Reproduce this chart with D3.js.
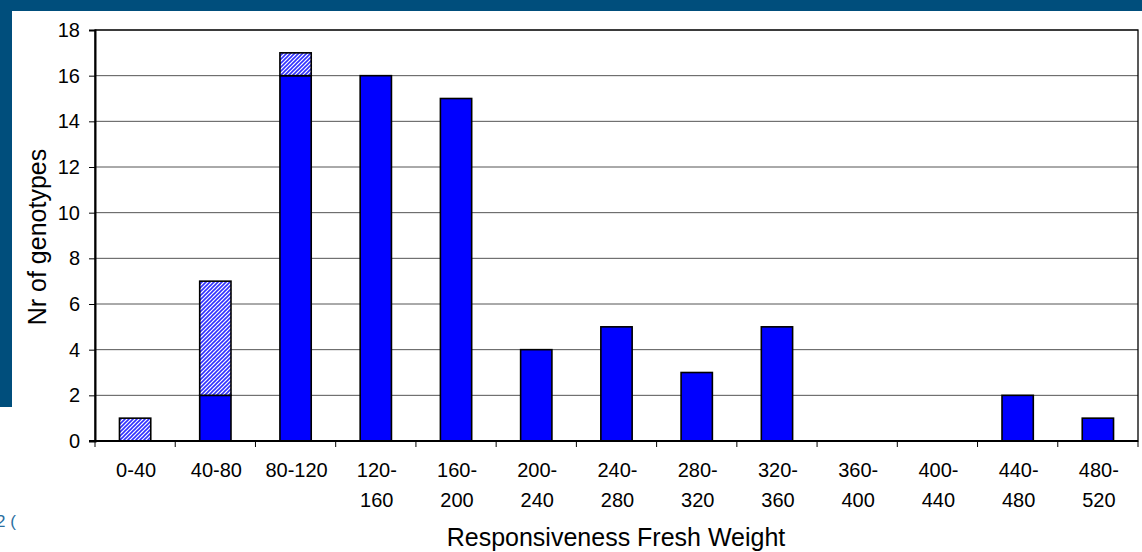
<!DOCTYPE html>
<html>
<head>
<meta charset="utf-8">
<script src="https://cdn.jsdelivr.net/npm/d3@7/dist/d3.min.js"></script>
<style>
  html, body { margin: 0; padding: 0; background: #fff; }
  svg { display: block; font-family: "Liberation Sans", Arial, sans-serif; }
</style>
</head>
<body>
<svg id="chart" width="1142" height="552"></svg>
<script>
// Weight classes (upper line / lower line of each label)
const categories = ["0-40", "40-80", "80-120", "120-160", "160-200", "200-240", "240-280",
                    "280-320", "320-360", "360-400", "400-440", "440-480", "480-520"];
const labelLines = [["0-40"], ["40-80"], ["80-120"], ["120-", "160"], ["160-", "200"],
                    ["200-", "240"], ["240-", "280"], ["280-", "320"], ["320-", "360"],
                    ["360-", "400"], ["400-", "440"], ["440-", "480"], ["480-", "520"]];
// Solid segment counts and hatched segment counts stacked on top
const solidValues   = [0, 2, 16, 16, 15, 4, 5, 3, 5, 0, 0, 2, 1];
const hatchedValues = [1, 5, 1, 0, 0, 0, 0, 0, 0, 0, 0, 0, 0];
const yTicks = [0, 2, 4, 6, 8, 10, 12, 14, 16, 18];

const svg = d3.select("#chart");
const W = 1142, H = 552;

// Slide frame: dark band at top and left
svg.append("rect").attr("x", 0).attr("y", 0).attr("width", W).attr("height", 11).attr("fill", "#004e7c");
svg.append("rect").attr("x", 0).attr("y", 0).attr("width", 12).attr("height", 407).attr("fill", "#004e7c");
svg.append("text").attr("x", -4).attr("y", 527).attr("font-size", 17).attr("fill", "#2a6ea0").text("2 (");

const plot = { left: 95, right: 1138, top: 30, bottom: 441 };

const x = d3.scaleBand().domain(categories).range([plot.left, plot.right]).paddingInner(0.61).paddingOuter(0.305);
const xOuter = d3.scaleBand().domain(categories).range([plot.left, plot.right]).padding(0);
const y = d3.scaleLinear().domain([0, 18]).range([plot.bottom, plot.top]);

// Hatch pattern
const defs = svg.append("defs");
const pat = defs.append("pattern").attr("id", "hatch").attr("patternUnits", "userSpaceOnUse")
  .attr("width", 4).attr("height", 4);
pat.append("rect").attr("width", 4).attr("height", 4).attr("fill", "#ffffff");
pat.append("path").attr("d", "M-1,1 l2,-2 M0,4 l4,-4 M3,5 l2,-2")
  .attr("stroke", "#3030ff").attr("stroke-width", 1.6);

// Gridlines
svg.append("g").selectAll("line").data(yTicks.filter(d => d > 0)).join("line")
  .attr("x1", plot.left).attr("x2", plot.right)
  .attr("y1", d => y(d)).attr("y2", d => y(d))
  .attr("stroke", "#555").attr("stroke-width", 1);

// Plot frame
svg.append("rect").attr("x", plot.left).attr("y", plot.top)
  .attr("width", plot.right - plot.left).attr("height", plot.bottom - plot.top)
  .attr("fill", "none").attr("stroke", "#000").attr("stroke-width", 1.3);

// Bars
const bars = svg.append("g");
categories.forEach((c, i) => {
  const s = solidValues[i], h = hatchedValues[i];
  if (s > 0) {
    bars.append("rect").attr("x", x(c)).attr("width", x.bandwidth())
      .attr("y", y(s)).attr("height", y(0) - y(s))
      .attr("fill", "#0000ff").attr("stroke", "#000").attr("stroke-width", 1.6);
  }
  if (h > 0) {
    bars.append("rect").attr("x", x(c)).attr("width", x.bandwidth())
      .attr("y", y(s + h)).attr("height", y(s) - y(s + h))
      .attr("fill", "url(#hatch)").attr("stroke", "#000").attr("stroke-width", 1.6);
  }
});

// Y axis
const yAxis = svg.append("g").attr("transform", `translate(${plot.left},0)`)
  .call(d3.axisLeft(y).tickValues(yTicks).tickSize(6).tickPadding(9).tickFormat(d3.format("d")));
yAxis.select(".domain").attr("stroke", "#000").attr("stroke-width", 2);
yAxis.selectAll(".tick line").attr("stroke", "#000");
yAxis.selectAll("text").attr("font-size", 20).attr("fill", "#000")
  .attr("font-family", "'Liberation Sans', Arial, sans-serif");

// X axis: ticks at category boundaries
const xg = svg.append("g");
xg.append("line").attr("x1", plot.left - 6).attr("x2", plot.right)
  .attr("y1", plot.bottom).attr("y2", plot.bottom).attr("stroke", "#000").attr("stroke-width", 2);
const bounds = categories.map(c => xOuter(c)).concat([plot.right]);
xg.selectAll("line.tk").data(bounds).join("line").attr("class", "tk")
  .attr("x1", d => d).attr("x2", d => d)
  .attr("y1", plot.bottom).attr("y2", plot.bottom + 6).attr("stroke", "#000");

const lbl = xg.selectAll("text.cl").data(categories).join("text").attr("class", "cl")
  .attr("text-anchor", "middle").attr("font-size", 20).attr("fill", "#000")
  .attr("x", d => xOuter(d) + xOuter.bandwidth() / 2 + 1).attr("y", 477);
lbl.each(function(d, i) {
  const t = d3.select(this);
  labelLines[i].forEach((line, k) => {
    t.append("tspan").attr("x", xOuter(d) + xOuter.bandwidth() / 2 + 1)
      .attr("dy", k === 0 ? 0 : 30).text(line);
  });
});

// Axis titles
svg.append("text").attr("x", 616).attr("y", 546).attr("text-anchor", "middle")
  .attr("font-size", 25).attr("fill", "#000").text("Responsiveness Fresh Weight");
svg.append("text").attr("transform", "translate(46,237) rotate(-90)").attr("text-anchor", "middle")
  .attr("font-size", 25).attr("fill", "#000").text("Nr of genotypes");
</script>
</body>
</html>
